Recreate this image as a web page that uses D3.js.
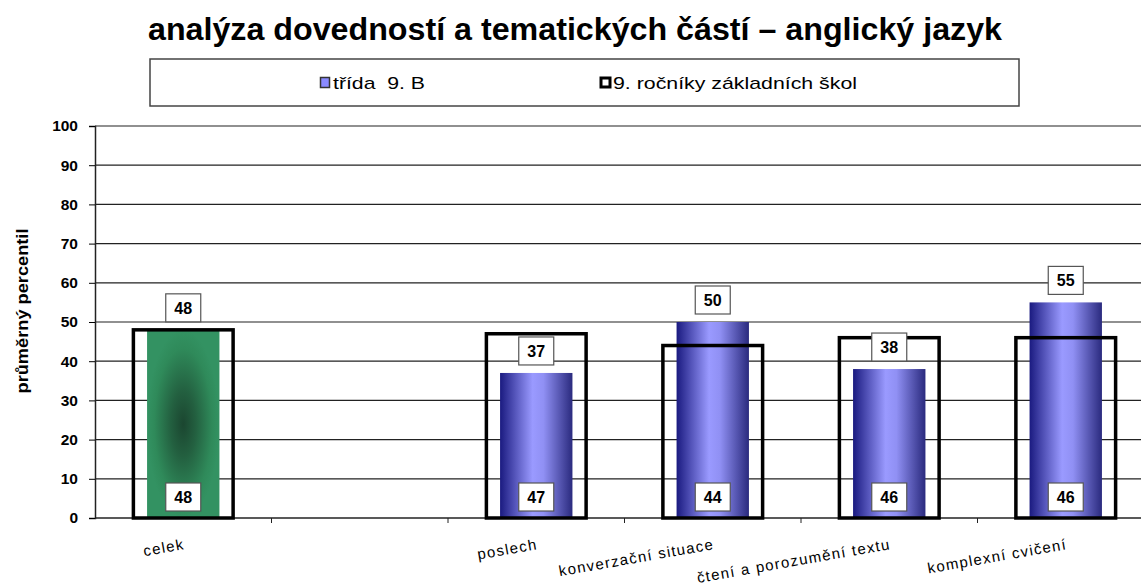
<!DOCTYPE html>
<html>
<head>
<meta charset="utf-8">
<script src="https://cdn.jsdelivr.net/npm/d3@7"></script>
<style>
body { margin: 0; background: #fff; }
svg { font-family: "Liberation Sans", Arial, sans-serif; }
</style>
</head>
<body>
<svg id="chart" width="1141" height="588"></svg>
<script>
// data
var categories = ['celek', '', 'poslech', 'konverzační situace', 'čtení a porozumění textu', 'komplexní cvičení'];
var tridaValues = [48, null, 37, 50, 38, 55];      // třída 9. B
var skolyValues = [48, null, 47, 44, 46, 46];      // 9. ročníky základních škol
var yTicks = [0, 10, 20, 30, 40, 50, 60, 70, 80, 90, 100];

var svg = d3.select('#chart');
var defs = svg.append('defs');

// blue cylinder gradient
var blue = defs.append('linearGradient').attr('id', 'blueGrad')
    .attr('x1', '0%').attr('x2', '100%').attr('y1', '0%').attr('y2', '0%');
blue.append('stop').attr('offset', '0%').attr('stop-color', '#1a1a80');
blue.append('stop').attr('offset', '45%').attr('stop-color', '#9a9aff');
blue.append('stop').attr('offset', '60%').attr('stop-color', '#9090f4');
blue.append('stop').attr('offset', '100%').attr('stop-color', '#2a2a7e');

// green gradient, dark in the middle
var green = defs.append('radialGradient').attr('id', 'greenGrad')
    .attr('cx', '50%').attr('cy', '50%').attr('r', '50%');
green.append('stop').attr('offset', '0%').attr('stop-color', '#1b4630');
green.append('stop').attr('offset', '35%').attr('stop-color', '#236040');
green.append('stop').attr('offset', '80%').attr('stop-color', '#2f8a5a');
green.append('stop').attr('offset', '100%').attr('stop-color', '#339262');

var x = d3.scaleBand()
    .domain(d3.range(categories.length))
    .range([95, 95 + 6 * 176.5])
    .paddingInner(0).paddingOuter(0);

var y = d3.scaleLinear().domain([0, 100]).range([518, 126]);

// title
svg.append('text')
    .attr('x', 575).attr('y', 40)
    .attr('text-anchor', 'middle')
    .attr('textLength', 854).attr('lengthAdjust', 'spacingAndGlyphs')
    .style('font-size', '32px').style('font-weight', 'bold')
    .text('analýza dovedností a tematických částí – anglický jazyk');

// legend
svg.append('rect')
    .attr('x', 150).attr('y', 59).attr('width', 869).attr('height', 47)
    .attr('fill', '#fff').attr('stroke', '#444').attr('stroke-width', 1.5);
svg.append('rect')
    .attr('x', 320.5).attr('y', 77.5).attr('width', 9).attr('height', 10)
    .attr('fill', '#8a8aff').attr('stroke', '#333').attr('stroke-width', 1.5);
svg.append('text')
    .attr('x', 333).attr('y', 89)
    .attr('textLength', 92).attr('lengthAdjust', 'spacingAndGlyphs')
    .style('font-size', '17px').style('white-space', 'pre')
    .text('třída  9. B');
svg.append('rect')
    .attr('x', 601).attr('y', 78).attr('width', 9).attr('height', 9)
    .attr('fill', '#fff').attr('stroke', '#000').attr('stroke-width', 3);
svg.append('text')
    .attr('x', 613).attr('y', 89)
    .attr('textLength', 244).attr('lengthAdjust', 'spacingAndGlyphs')
    .style('font-size', '17px')
    .text('9. ročníky základních škol');

// grid
svg.append('g').selectAll('line')
    .data(yTicks.filter(function(d) { return d > 0; }))
    .enter().append('line')
    .attr('x1', 95).attr('x2', 1141)
    .attr('y1', function(d) { return y(d); })
    .attr('y2', function(d) { return y(d); })
    .attr('stroke', '#222').attr('stroke-width', 1.2);

// y axis
var yAxis = svg.append('g')
    .attr('transform', 'translate(95,0)')
    .call(d3.axisLeft(y).tickValues(yTicks).tickSize(6).tickPadding(11));
yAxis.select('.domain').attr('stroke', '#222').attr('stroke-width', 1.5);
yAxis.selectAll('text')
    .style('font-size', '15.5px').style('font-weight', 'bold')
    .style('font-family', '"Liberation Sans", Arial, sans-serif')
    .attr('fill', '#000');

svg.append('text')
    .attr('transform', 'translate(28,311) rotate(-90)')
    .attr('text-anchor', 'middle')
    .attr('textLength', 165).attr('lengthAdjust', 'spacingAndGlyphs')
    .style('font-size', '16px').style('font-weight', 'bold')
    .text('průměrný percentil');

// x axis
var xAxis = svg.append('g')
    .attr('transform', 'translate(0,518)');
xAxis.append('line')
    .attr('x1', 95).attr('x2', 1141).attr('y1', 0).attr('y2', 0)
    .attr('stroke', '#222').attr('stroke-width', 1.5);
xAxis.selectAll('.tk')
    .data(d3.range(1, categories.length))
    .enter().append('line')
    .attr('x1', function(i) { return x(i); })
    .attr('x2', function(i) { return x(i); })
    .attr('y1', 0).attr('y2', 5)
    .attr('stroke', '#222');
xAxis.selectAll('.lbl')
    .data(categories)
    .enter().append('text')
    .attr('transform', function(d, i) {
        return 'translate(' + (x(i) + x.bandwidth() / 2 + 2) + ',31) rotate(-10)';
    })
    .attr('text-anchor', 'end')
    .style('font-size', '15px').style('letter-spacing', '1.3px')
    .text(function(d) { return d; });

var barData = categories.map(function(c, i) {
    return { i: i, trida: tridaValues[i], skoly: skolyValues[i] };
}).filter(function(d) { return d.trida != null; });

var innerW = x.bandwidth() * 0.41;
var outerW = x.bandwidth() * 0.565;

// class bars
svg.append('g').selectAll('rect')
    .data(barData)
    .enter().append('rect')
    .attr('x', function(d) { return x(d.i) + (x.bandwidth() - innerW) / 2; })
    .attr('width', innerW)
    .attr('y', function(d) { return y(d.trida); })
    .attr('height', function(d) { return y(0) - y(d.trida); })
    .attr('fill', function(d) { return d.i === 0 ? 'url(#greenGrad)' : 'url(#blueGrad)'; });

// schools outline bars
svg.append('g').selectAll('rect')
    .data(barData)
    .enter().append('rect')
    .attr('x', function(d) { return x(d.i) + (x.bandwidth() - outerW) / 2; })
    .attr('width', outerW)
    .attr('y', function(d) { return y(d.skoly); })
    .attr('height', function(d) { return y(0) - y(d.skoly); })
    .attr('fill', 'none')
    .attr('stroke', '#000').attr('stroke-width', 3.5);

// value labels
function labelBox(g, cx, cy, v) {
    g.append('rect')
        .attr('x', cx - 17.5).attr('y', cy - 14).attr('width', 35).attr('height', 28)
        .attr('fill', '#fff').attr('stroke', '#555').attr('stroke-width', 1.2);
    g.append('text')
        .attr('x', cx).attr('y', cy + 6)
        .attr('text-anchor', 'middle')
        .style('font-size', '16px').style('font-weight', 'bold')
        .text(v);
}
var labels = svg.append('g');
barData.forEach(function(d) {
    var cx = x(d.i) + x.bandwidth() / 2;
    labelBox(labels, cx, y(d.trida) - 22, d.trida);
    labelBox(labels, cx, y(0) - 21, d.skoly);
});
</script>
</body>
</html>
